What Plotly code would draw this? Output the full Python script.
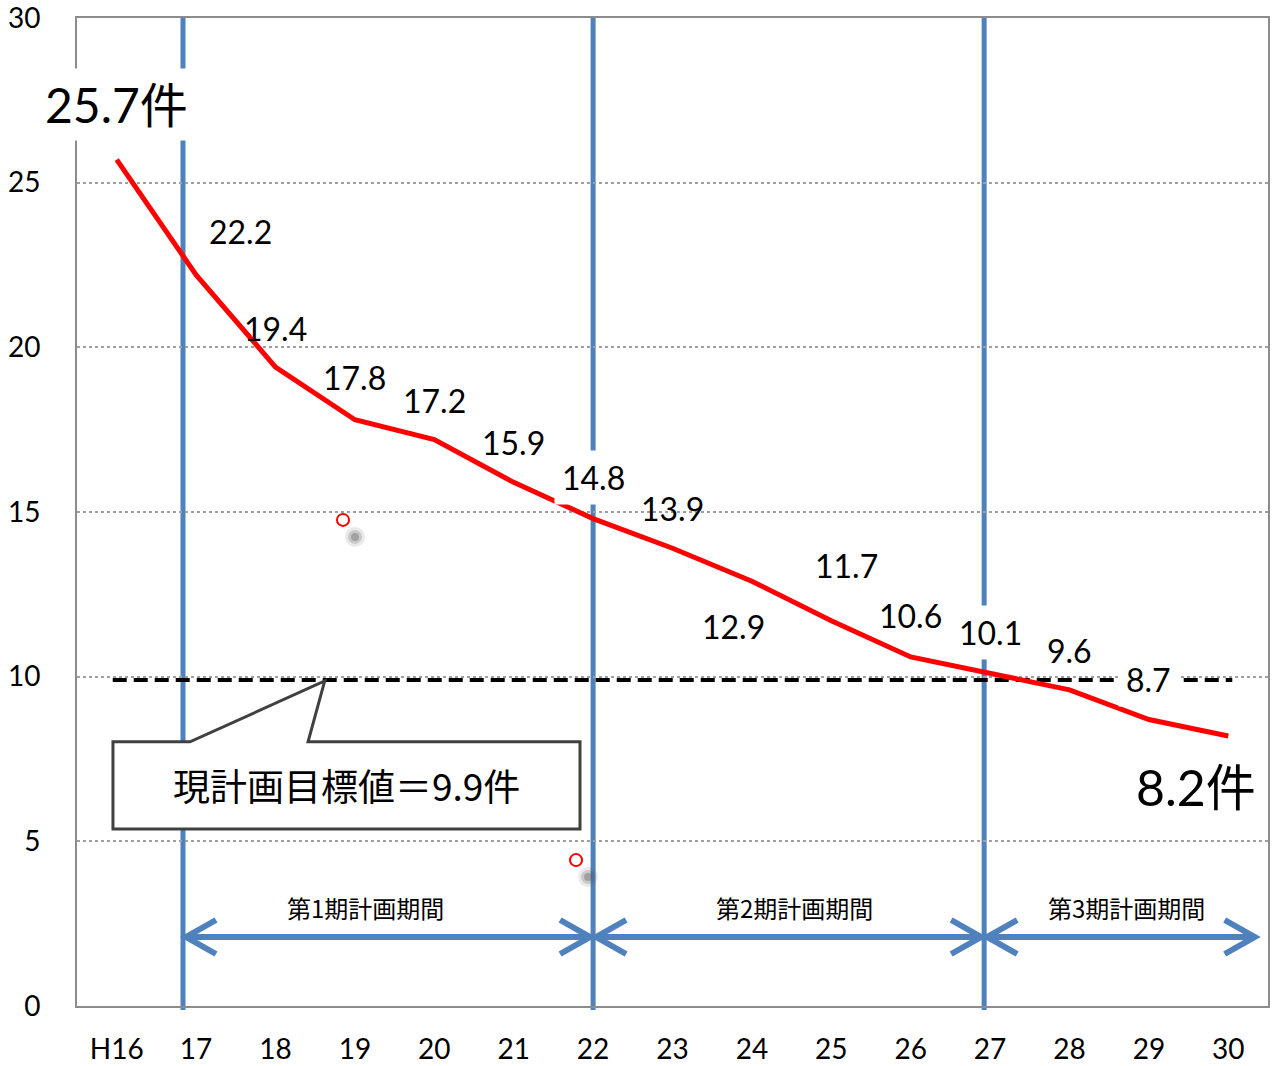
import plotly.graph_objects as go

# ---- data -------------------------------------------------------------
years = ["H16", "17", "18", "19", "20", "21", "22", "23", "24", "25",
         "26", "27", "28", "29", "30"]
counts = [25.7, 22.2, 19.4, 17.8, 17.2, 15.9, 14.8, 13.9, 12.9, 11.7,
          10.6, 10.1, 9.6, 8.7, 8.2]
target_value = 9.9
target_text = "現計画目標値＝9.9件"
period_names = ["第1期計画期間", "第2期計画期間", "第3期計画期間"]
# plan-period boundaries, in year-index units
period_bounds = [0.835, 6.0, 10.925, 14.37]
# stray marks on the sheet
stray_x = [2.85, 5.785]
stray_y = [14.76, 4.43]

# ---- layout constants -------------------------------------------------
W, H = 1278, 1066
M_L, M_R, M_T, M_B = 77, 10, 18, 60
X_RANGE = [-0.5, len(years) - 0.5]
Y_RANGE = [0, 30]
px_x = (W - M_L - M_R) / (X_RANGE[1] - X_RANGE[0])   # pixels per x unit
px_y = (H - M_T - M_B) / (Y_RANGE[1] - Y_RANGE[0])   # pixels per y unit

NUM_FONT = "Lato, 'Noto Sans CJK JP', sans-serif"
JP_FONT = "'Noto Sans CJK JP', sans-serif"
BLUE = "#4F81BD"
RED = "#FF0000"

# label placement around each point (pixels) and which labels get a white box
label_dx = [0, 44, 0, 0, 0, 0, 0, 0, -18, 15, 0, 0, 0, 0, -32]
label_dy = [55, 43, 39, 42, 39, 40, 41, 40, -45, 55, 41, 41, 39, 40, -51]
label_boxed = [True, False, False, False, False, False, True, False,
               False, False, False, True, False, True, False]

xs = list(range(len(years)))

fig = go.Figure()

# stray mark shadows and circles
for size, op in [(20, 0.12), (14, 0.22), (8, 0.35)]:
    fig.add_trace(go.Scatter(
        x=[sx + 12 / px_x for sx in stray_x],
        y=[sy - 17 / px_y for sy in stray_y],
        mode="markers", hoverinfo="skip", showlegend=False,
        marker=dict(size=size, color="#555555", opacity=op, line=dict(width=0))))
fig.add_trace(go.Scatter(
    x=stray_x, y=stray_y, mode="markers", hoverinfo="skip", showlegend=False,
    marker=dict(size=12, color=RED, symbol="circle-open",
                line=dict(color=RED, width=2))))

# main series
fig.add_trace(go.Scatter(
    x=xs, y=counts, mode="lines", showlegend=False,
    line=dict(color=RED, width=5)))

shapes = []
# period boundary lines
for b in period_bounds[:-1]:
    shapes.append(dict(type="line", xref="x", yref="paper", x0=b, x1=b,
                       y0=-0.004, y1=1, layer="between",
                       line=dict(color=BLUE, width=5)))
# target line
shapes.append(dict(type="line", xref="x", yref="y", x0=-0.05, x1=14.05,
                   y0=target_value, y1=target_value, layer="between",
                   line=dict(color="black", width=4, dash="14px,7px")))

# callout box for the target
bx0, bx1 = -0.047, 5.835
by_top, by_bot = 8.02, 5.375
tip_x = 2.62
notch_a, notch_b = 0.923, 2.41
callout = (f"M {bx0},{by_top} L {notch_a},{by_top} L {tip_x},{target_value - 0.03} "
           f"L {notch_b},{by_top} L {bx1},{by_top} L {bx1},{by_bot} "
           f"L {bx0},{by_bot} Z")
shapes.append(dict(type="path", xref="x", yref="y", path=callout,
                   fillcolor="white", layer="above",
                   line=dict(color="#404040", width=3)))

# double-headed period arrows
arrow_y = 2.095
inset = 3 / px_x
cdx, cdy = 30 / px_x, 17 / px_y
for a, b in zip(period_bounds[:-1], period_bounds[1:]):
    l, r = a + inset, b - inset
    shapes.append(dict(type="path", xref="x", yref="y", layer="above",
                       path=f"M {l},{arrow_y} L {r},{arrow_y}",
                       line=dict(color=BLUE, width=6)))
    shapes.append(dict(type="path", xref="x", yref="y", layer="above",
                       path=f"M {l + cdx},{arrow_y + cdy} L {l},{arrow_y} L {l + cdx},{arrow_y - cdy}",
                       line=dict(color=BLUE, width=6)))
    shapes.append(dict(type="path", xref="x", yref="y", layer="above",
                       path=f"M {r - cdx},{arrow_y + cdy} L {r},{arrow_y} L {r - cdx},{arrow_y - cdy}",
                       line=dict(color=BLUE, width=6)))

annotations = []
last = len(counts) - 1
for i, v in enumerate(counts):
    big = i in (0, last)
    txt = f"{v:.1f}件" if big else f"{v:.1f}"
    annotations.append(dict(
        x=i, y=v, xref="x", yref="y", text=txt, showarrow=False,
        xshift=label_dx[i], yshift=label_dy[i],
        font=dict(family=NUM_FONT, size=(48 if i == 0 else 50) if big else 32, color="black"),
        bgcolor="white" if label_boxed[i] else "rgba(0,0,0,0)",
        borderpad=7 if label_boxed[i] else 0))

annotations.append(dict(x=2.89, y=6.7, xref="x", yref="y", text=target_text,
                        showarrow=False,
                        font=dict(family=JP_FONT, size=37, color="black")))

period_label_x = [3.13, 8.54, 12.72]
for name, px in zip(period_names, period_label_x):
    annotations.append(dict(x=px, y=arrow_y, yshift=30, xref="x", yref="y",
                            text=name, showarrow=False,
                            font=dict(family=JP_FONT, size=24, color="black")))

fig.update_layout(
    width=W, height=H,
    margin=dict(l=M_L, r=M_R, t=M_T, b=M_B),
    paper_bgcolor="white", plot_bgcolor="white",
    showlegend=False,
    shapes=shapes, annotations=annotations,
    xaxis=dict(range=X_RANGE, tickmode="array", tickvals=xs, ticktext=years,
               showgrid=False, zeroline=False, showline=True, mirror=True,
               linecolor="#8c8c8c", linewidth=2, ticks="", automargin=False,
               ticklabelstandoff=17, ticklabeloverflow="allow",
               tickfont=dict(family=NUM_FONT, size=28, color="black")),
    yaxis=dict(range=Y_RANGE, dtick=5, showgrid=True, griddash="dot",
               gridcolor="#a0a0a0", gridwidth=1.5, zeroline=False,
               showline=True, mirror=True, linecolor="#8c8c8c", linewidth=2,
               ticks="", ticklabelstandoff=29, automargin=False,
               ticklabeloverflow="allow",
               tickfont=dict(family=NUM_FONT, size=28, color="black")),
)

fig.write_html("out.html")
